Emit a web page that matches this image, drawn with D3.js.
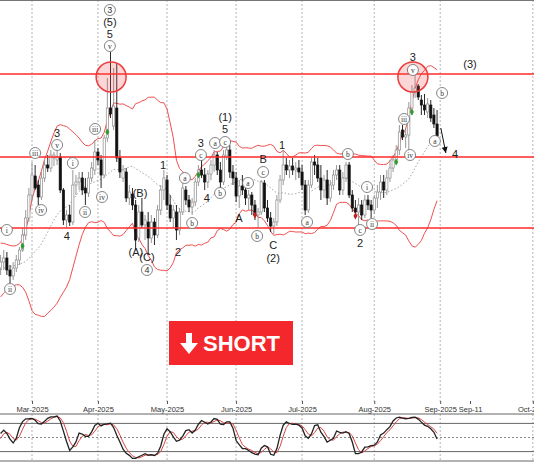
<!DOCTYPE html>
<html><head><meta charset="utf-8">
<script src="https://cdn.jsdelivr.net/npm/d3@7/dist/d3.min.js"></script>
<style>body{margin:0;background:#fff}svg{display:block}</style>
</head><body><svg id="c" width="534" height="462"></svg>
<script>
// ---- data (daily bars, Feb 17 2025 .. Aug 29 2025), arbitrary price units ----
const opens=[232,238,242,230,224,232,240,250,265,282,
305,324,315,303,322,335,332,342,340,343,
310,280,285,278,315,318,322,312,307,322,
330,348,340,325,362,392,374,392,342,322,
328,302,306,295,262,288,275,278,262,278,
265,290,310,320,295,282,288,270,288,310,
300,293,298,318,330,325,318,326,335,345,
330,318,344,350,328,322,304,314,310,302,
305,295,285,288,317,292,282,274,278,300,
320,335,330,334,330,332,328,315,290,315,
338,335,322,310,320,302,315,325,330,310,
322,335,305,292,288,295,285,300,295,290,
302,308,318,310,322,332,340,350,370,363,
365,392,408,414,400,395,388,395,385,376];
const highs=[245,250,248,235,238,245,253,272,290,312,
338,335,320,328,340,345,350,348,350,347,
312,290,295,330,325,328,328,322,328,338,
360,352,345,365,422,448,432,437,350,335,
332,315,312,300,295,302,285,288,285,282,
295,315,330,325,305,295,295,292,317,314,
305,302,322,335,340,332,330,340,350,348,
338,350,353,355,335,328,320,325,317,310,
308,300,292,320,320,300,288,282,305,325,
350,342,340,342,338,340,335,320,320,342,
345,342,335,325,330,320,330,335,335,328,
338,338,310,300,302,300,305,305,300,305,
315,325,325,330,340,345,355,375,375,372,
398,415,426,416,405,406,402,400,392,390];
const lows=[225,230,225,217,220,228,235,248,260,278,
300,310,295,300,318,328,328,334,335,307,
275,272,274,275,305,310,305,295,303,318,
325,335,312,322,358,382,370,338,322,318,
298,295,290,250,258,272,260,245,257,255,
262,285,300,290,278,272,260,265,285,295,
288,285,294,314,322,310,312,320,328,325,
312,315,340,322,315,298,292,305,295,290,
285,280,272,285,288,278,268,266,274,297,
315,325,322,325,320,322,310,285,287,312,
325,318,300,302,295,298,310,320,305,305,
318,302,288,282,274,280,282,290,282,286,
292,300,302,305,318,328,335,345,360,352,
350,385,402,400,385,385,382,378,372,360];
const closes=[238,242,230,224,232,240,250,265,282,305,
325,312,303,322,335,332,345,345,343,310,
280,285,278,315,318,322,310,307,322,332,
348,340,325,362,392,386,394,342,328,330,
302,308,295,260,288,275,280,262,278,265,
290,310,322,295,282,290,270,288,312,300,
293,298,318,330,325,318,326,335,345,330,
318,345,350,328,322,304,314,310,302,305,
295,285,288,318,292,282,274,278,300,320,
335,330,334,330,332,328,315,290,315,338,
335,322,310,320,302,315,325,330,310,322,
335,305,292,288,295,285,300,295,290,302,
308,318,310,322,332,340,350,368,363,365,
392,408,412,403,395,390,396,382,376,364];
// closes of the 19 sessions before the first visible bar (indicator warm-up)
const warmupCloses=[205,210,212,218,225,232,240,248,252,250,244,238,230,222,215,220,228,234,238];

const tickIdx=[10,31,53,75,96,119,140,149.5,169.5];
const tickLabels=["Mar-2025","Apr-2025","May-2025","Jun-2025","Jul-2025","Aug-2025","Sep-2025","Sep-11","Oct-2025"];
const gridIdx=[10,31,53,75,96,119,140,169.5];
const levels=[426,343,272];
const oscLevels=[80,50,20];

const buyIdx=[7,34,63,126,131], buyPrice=[254,368,325,338,388];
const sellIdx=[81,113], sellPrice=[285,284];
const peakIdx=[35.2,131.3], peakPrice=[423,423];

const circIdx=[2,3,11,12.9,18,23,26.9,30.1,32.3,34.8,34.8,46.6,58.7,61,63.8,68.3,69.9,71.5,78.8,81.7,83.6,97.6,110.6,114.5,116.7,118.3,128.5,130.4,131.3,138.3,140.6];
const circPrice=[270,211,347,290,355,337,288,371,303,454,490,230,322,277,345,357,307,358,317,264,328,278,346,270,313,276,381,345,430,359,407];
const circText=["i","ii","iii","iv","v","i","ii","iii","iv","v","3","4","a","b","c","a","b","c","a","b","c","a","b","c","i","ii","iii","iv","v","a","b"];

const lblIdx=[18,21.1,34.8,34.8,44.4,43.1,46.6,51.7,56.5,63.8,65.7,71.5,71.5,75.9,83.6,86.8,86.8,89.6,114.5,131.3,149.5,144.7];
const lblPrice=[367,264,466,478,307,248,243,335,248,357,302,383,371,282,341,255,242,355,257,443,436,346];
const lblText=["3","4","5","(5)","(B)","(A)","(C)","1","2","3","4","(1)","5","A","B","C","(2)","1","2","3","(3)","4"];

const arrowIdx=[140.2,141.8], arrowPrice=[372,347];

// ---- scales ----
const svg=d3.select("#c");
const x=d3.scaleLinear().domain([0,100]).range([0.6,314.6]);
const y=d3.scaleLinear().domain([100,500]).range([400,0]);
const yo=d3.scaleLinear().domain([0,100]).range([461,414]);
const n=closes.length, nw=warmupCloses.length;

// ---- indicators ----
const allC=warmupCloses.concat(closes);
const allH=warmupCloses.concat(highs);
const allL=warmupCloses.concat(lows);
const bb=[];
for(let i=0;i<n;i++){
  const j=i+nw; const w=allC.slice(j-19,j+1);
  const m=d3.mean(w); const s=Math.sqrt(d3.mean(w,v=>(v-m)*(v-m)));
  bb.push({i,m,u:m+2*s,l:m-2*s});
}
const raw=[];
for(let j=0;j<allC.length;j++){
  if(j<13){raw.push(null);continue;}
  const hh=d3.max(allH.slice(j-13,j+1)), ll=d3.min(allL.slice(j-13,j+1));
  raw.push(hh===ll?50:(allC[j]-ll)/(hh-ll)*100);
}
function sma3(a){return a.map((v,j)=>{if(j<2||a[j]==null||a[j-1]==null||a[j-2]==null)return null;return (a[j]+a[j-1]+a[j-2])/3;});}
const K=sma3(raw), D=sma3(K);

// ---- grid ----
const g=svg.append("g");
gridIdx.forEach(t=>{
  g.append("line").attr("x1",x(t)).attr("x2",x(t)).attr("y1",0).attr("y2",404)
   .attr("stroke","#b4b4b4").attr("stroke-dasharray","2,2");
  g.append("line").attr("x1",x(t)).attr("x2",x(t)).attr("y1",414).attr("y2",461)
   .attr("stroke","#b4b4b4").attr("stroke-dasharray","2,2");
});
svg.append("line").attr("x1",0).attr("x2",534).attr("y1",0.5).attr("y2",0.5).attr("stroke","#777");

// ---- bollinger ----
const lineU=d3.line().x(d=>x(d.i)).y(d=>y(d.u));
const lineL=d3.line().x(d=>x(d.i)).y(d=>y(d.l));
const lineM=d3.line().x(d=>x(d.i)).y(d=>y(d.m));
svg.append("path").attr("d",lineU(bb)).attr("fill","none").attr("stroke","#f05050").attr("stroke-width",1);
svg.append("path").attr("d",lineL(bb)).attr("fill","none").attr("stroke","#f05050").attr("stroke-width",1);
svg.append("path").attr("d",lineM(bb)).attr("fill","none").attr("stroke","#999").attr("stroke-width",0.9).attr("stroke-dasharray","1.5,2");

// ---- candles ----
const bw=2.2;
const cg=svg.append("g");
for(let i=0;i<n;i++){
  const up=closes[i]>=opens[i];
  const col=up?"#8c8c8c":"#111";
  cg.append("line").attr("x1",x(i)).attr("x2",x(i)).attr("y1",y(highs[i])).attr("y2",y(lows[i]))
    .attr("stroke",col).attr("stroke-width",0.9);
  const top=y(Math.max(opens[i],closes[i])), bot=y(Math.min(opens[i],closes[i]));
  cg.append("rect").attr("x",x(i)-bw/2).attr("y",top).attr("width",bw).attr("height",Math.max(1,bot-top))
    .attr("fill",up?"#fff":"#111").attr("stroke",col).attr("stroke-width",0.7);
}

// ---- levels ----
levels.forEach(p=>svg.append("line").attr("x1",0).attr("x2",534).attr("y1",y(p)).attr("y2",y(p))
  .attr("stroke","#ff2a2a").attr("stroke-width",1.6));

// ---- signals ----
buyIdx.forEach((b,k)=>svg.append("path").attr("transform",`translate(${x(b)},${y(buyPrice[k])})`)
  .attr("d",d3.symbol(d3.symbolDiamond,14)()).attr("fill","#2f9a2f"));
sellIdx.forEach((b,k)=>svg.append("path").attr("transform",`translate(${x(b)},${y(sellPrice[k])})`)
  .attr("d",d3.symbol(d3.symbolDiamond,14)()).attr("fill","#c02020"));

// ---- peak circles ----
peakIdx.forEach((b,k)=>svg.append("circle").attr("cx",x(b)).attr("cy",y(peakPrice[k])).attr("r",15)
  .attr("fill","rgba(240,70,70,0.22)").attr("stroke","#ee3b3b").attr("stroke-width",1.5));

// ---- wave labels ----
circIdx.forEach((b,k)=>{
  const cx=x(b), cy=y(circPrice[k]);
  svg.append("circle").attr("cx",cx).attr("cy",cy).attr("r",5.5).attr("fill","#fff").attr("stroke","#666").attr("stroke-width",0.8);
  const isNum=/^[0-9]$/.test(circText[k]);
  svg.append("text").attr("x",cx).attr("y",cy+0.3).attr("text-anchor","middle").attr("dominant-baseline","central")
    .attr("font-family",isNum?"Liberation Sans, Arial, sans-serif":"Liberation Serif, serif")
    .attr("font-size",isNum?9:7.5).attr("fill","#333").text(circText[k]);
});
lblIdx.forEach((b,k)=>svg.append("text").attr("x",x(b)).attr("y",y(lblPrice[k])).attr("text-anchor","middle")
  .attr("dominant-baseline","central").attr("font-family","Liberation Sans, Arial, sans-serif")
  .attr("font-size",11).attr("fill","#222").text(lblText[k]));

// ---- projection arrow ----
{
  const x1=x(arrowIdx[0]), y1=y(arrowPrice[0]), x2=x(arrowIdx[1]), y2=y(arrowPrice[1]);
  svg.append("line").attr("x1",x1).attr("y1",y1).attr("x2",x2).attr("y2",y2).attr("stroke","#111").attr("stroke-width",1);
  const a=Math.atan2(y2-y1,x2-x1);
  const p=[[x2,y2],[x2-6*Math.cos(a)+3*Math.sin(a),y2-6*Math.sin(a)-3*Math.cos(a)],[x2-6*Math.cos(a)-3*Math.sin(a),y2-6*Math.sin(a)+3*Math.cos(a)]];
  svg.append("path").attr("d","M"+p.join("L")+"Z").attr("fill","#111");
}

// ---- SHORT badge ----
const bx=169, by=321;
svg.append("rect").attr("x",bx).attr("y",by).attr("width",124).attr("height",44).attr("fill","#f3272c");
svg.append("path").attr("d",`M${bx+17},${by+12}h6v10h6l-9,11l-9,-11h6z`).attr("fill","#fff");
svg.append("text").attr("x",bx+34).attr("y",by+30).attr("font-family","Liberation Sans, Arial, sans-serif")
  .attr("font-weight","bold").attr("font-size",22).attr("fill","#fff").text("SHORT");

// ---- x axis ----
const ax=svg.append("g").attr("transform","translate(0,401)")
  .call(d3.axisBottom(x).tickValues(tickIdx).tickFormat((d,k)=>tickLabels[k]).tickSize(3).tickPadding(3));
ax.select(".domain").remove();
ax.selectAll("line").attr("stroke","#555");
ax.selectAll("text").attr("font-family","Liberation Sans, Arial, sans-serif").attr("font-size",7.5).attr("fill","#333");

// ---- oscillator ----
[[100,"#666",null],[0,"#666",null]].concat(oscLevels.map(v=>[v,"#666",v===50?"2,2":null])).forEach(([v,c,da])=>{
  const l=svg.append("line").attr("x1",0).attr("x2",534).attr("y1",yo(v)).attr("y2",yo(v)).attr("stroke",c).attr("stroke-width",1);
  if(da) l.attr("stroke-dasharray",da).attr("stroke","#888");
});
const kd=d3.range(n).map(i=>({i,k:K[i+nw],d:D[i+nw]}));
svg.append("path").attr("d",d3.line().x(d=>x(d.i)).y(d=>yo(d.d))(kd)).attr("fill","none").attr("stroke","#d64545").attr("stroke-width",1);
svg.append("path").attr("d",d3.line().x(d=>x(d.i)).y(d=>yo(d.k))(kd)).attr("fill","none").attr("stroke","#222").attr("stroke-width",1.3);
</script></body></html>
